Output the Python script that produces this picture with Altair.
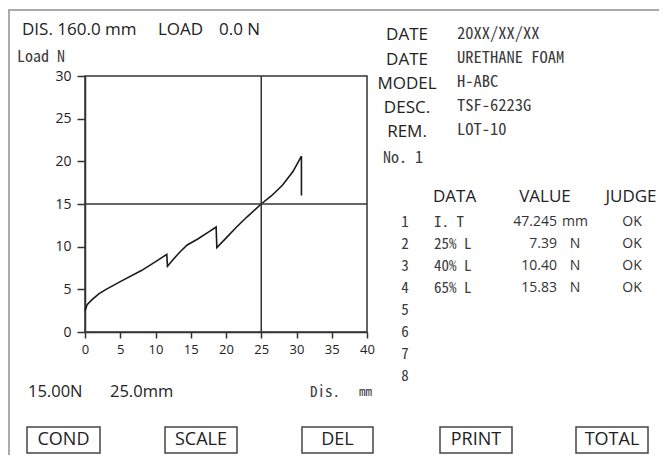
import altair as alt
import pandas as pd

# ---------------- data ----------------
dis_mm = [0.0, 0.3, 1.0, 2.0, 3.0, 5.0, 8.0, 10.3, 11.6, 11.7, 12.5, 13.5, 14.5, 16.0, 17.5, 18.6,
          18.7, 20.0, 21.5, 23.0, 25.0, 26.5, 28.0, 29.5, 30.7, 30.7]
load_n = [2.5, 3.2, 3.8, 4.5, 5.0, 5.9, 7.2, 8.4, 9.1, 7.7, 8.5, 9.4, 10.2, 10.9, 11.7, 12.3,
          9.9, 11.0, 12.3, 13.5, 15.0, 16.0, 17.2, 18.8, 20.6, 16.0]
x_ticks = [0, 5, 10, 15, 20, 25, 30, 35, 40]
y_ticks = [0, 5, 10, 15, 20, 25, 30]
cursor_dis = 25.0
cursor_load = 15.0

header_items = ["DIS. 160.0 mm", "LOAD", "0.0 N"]
info_labels = ["DATE", "DATE", "MODEL", "DESC.", "REM."]
info_values = ["20XX/XX/XX", "URETHANE FOAM", "H-ABC", "TSF-6223G", "LOT-10"]
sample_no = "No. 1"
table_headers = ["DATA", "VALUE", "JUDGE"]
row_numbers = ["1", "2", "3", "4", "5", "6", "7", "8"]
data_names = ["I. T", "25% L", "40% L", "65% L"]
data_values = ["47.245", "7.39", "10.40", "15.83"]
data_units = ["mm", "N", "N", "N"]
judges = ["OK", "OK", "OK", "OK"]
cursor_texts = ["15.00N", "25.0mm"]
x_axis_title = ["Dis.", "mm"]
y_axis_title = "Load N"
buttons = ["COND", "SCALE", "DEL", "PRINT", "TOTAL"]

# ---------------- layout ----------------
SANS = "Open Sans"
MONO = "Noto Sans Mono CJK JP, DejaVu Sans Mono, monospace"
INK = "#222222"
MONO_INK = "#3a3a3a"
LINE = "#333333"
OX, OY = 85, 76          # plot origin in page pixels
W, H = 282, 256

curve = pd.DataFrame({"dis": dis_mm, "load": load_n, "idx": list(range(len(dis_mm)))})
one = pd.DataFrame({"k": [0]})


def txt(s, x, y, size=17, font=SANS, align="left", color=INK, **kw):
    return alt.Chart(one).mark_text(
        text=s, font=font, fontSize=size, align=align, baseline="middle", color=color, **kw
    ).encode(x=alt.value(x - OX), y=alt.value(y - OY))


xs = alt.Scale(domain=[0, 40], nice=False)
ys = alt.Scale(domain=[0, 30], nice=False)
x_axis = alt.Axis(values=x_ticks, title=None, tickSize=6, labelPadding=5, grid=False,
                  labelOverlap=False, labelFlush=False, labelFontSize=13)
y_axis = alt.Axis(values=y_ticks, title=None, tickSize=8, labelPadding=6, grid=False,
                  labelOverlap=False, labelFlush=False, labelFontSize=14)

line = alt.Chart(curve).mark_line(color="#1a1a1a", strokeWidth=1.6).encode(
    x=alt.X("dis:Q", scale=xs, axis=x_axis),
    y=alt.Y("load:Q", scale=ys, axis=y_axis),
    order="idx:Q",
)

vrule = alt.Chart(one).mark_rule(color=LINE, strokeWidth=1.5).encode(
    x=alt.XDatum(cursor_dis, scale=xs, axis=x_axis))
hrule = alt.Chart(one).mark_rule(color=LINE, strokeWidth=1.5).encode(
    y=alt.YDatum(cursor_load, scale=ys, axis=y_axis))

layers = [line, vrule, hrule]

# outer frame (top and left)
layers.append(alt.Chart(one).mark_rule(color="#aaaaaa", strokeWidth=2).encode(
    x=alt.value(8 - OX), x2=alt.value(659 - OX), y=alt.value(10 - OY)))
layers.append(alt.Chart(one).mark_rule(color="#aaaaaa", strokeWidth=2).encode(
    x=alt.value(9 - OX), y=alt.value(10 - OY), y2=alt.value(455 - OY)))

# header
layers.append(txt(header_items[0], 22, 30, 17))
layers.append(txt(header_items[1], 158, 30, 17))
layers.append(txt(header_items[2], 219, 30, 17))
layers.append(txt(y_axis_title, 17, 57, 16, MONO, color=MONO_INK))

# info panel
lab_y = [35, 60, 84, 108, 132]
val_y = [34, 58, 82, 106, 130]
for s, yy in zip(info_labels, lab_y):
    layers.append(txt(s, 407, yy, 17, SANS, "center"))
for s, yy in zip(info_values, val_y):
    layers.append(txt(s, 457, yy, 16.5, MONO, color=MONO_INK))
layers.append(txt(sample_no, 383, 158, 16, MONO, color=MONO_INK))

# table
layers.append(txt(table_headers[0], 433, 197, 17))
layers.append(txt(table_headers[1], 545, 197, 17, SANS, "center"))
layers.append(txt(table_headers[2], 631, 197, 17, SANS, "center"))
for i, s in enumerate(row_numbers):
    layers.append(txt(s, 405, 222 + 22 * i, 15, MONO, "center", MONO_INK))
for i in range(len(data_names)):
    yy = 222 + 22 * i
    layers.append(txt(data_names[i], 434, yy, 15, MONO, color=MONO_INK))
    layers.append(txt(data_values[i], 557, yy, 14, SANS, "right", "#333333"))
    layers.append(txt(data_units[i], 575, yy, 14, SANS, "center", "#333333"))
    layers.append(txt(judges[i], 632, yy, 14, SANS, "center", "#333333"))

# cursor readout and x title
layers.append(txt(cursor_texts[0], 28, 392, 16.5))
layers.append(txt(cursor_texts[1], 110, 392, 16.5))
layers.append(txt(x_axis_title[0], 310, 392, 15, MONO, color=MONO_INK))
layers.append(txt(x_axis_title[1], 359, 392, 13, MONO, color=MONO_INK))

# buttons
btn_x = [(27, 100), (165, 237), (302, 373), (440, 512), (576, 648)]
for s, (x1, x2) in zip(buttons, btn_x):
    layers.append(alt.Chart(one).mark_rect(fillOpacity=0, stroke="#444444", strokeWidth=1.5).encode(
        x=alt.value(x1 - OX), x2=alt.value(x2 - OX), y=alt.value(427 - OY), y2=alt.value(453 - OY)))
    layers.append(txt(s, (x1 + x2) / 2, 440, 18, SANS, "center"))

chart = alt.layer(*layers).properties(
    width=W, height=H,
    autosize=alt.AutoSizeParams(type="none"),
    padding={"left": OX - 8, "top": OY - 8, "right": 651 - (OX - 8) - W, "bottom": 447 - (OY - 8) - H},
).configure_view(
    stroke=LINE, strokeWidth=1.5
).configure_axis(
    domainColor=LINE, domainWidth=1.5, tickColor=LINE, tickWidth=1.5,
    labelFont=SANS, labelColor=INK,
)

chart.save("out.html", embed_options={"renderer": "svg", "actions": False})
